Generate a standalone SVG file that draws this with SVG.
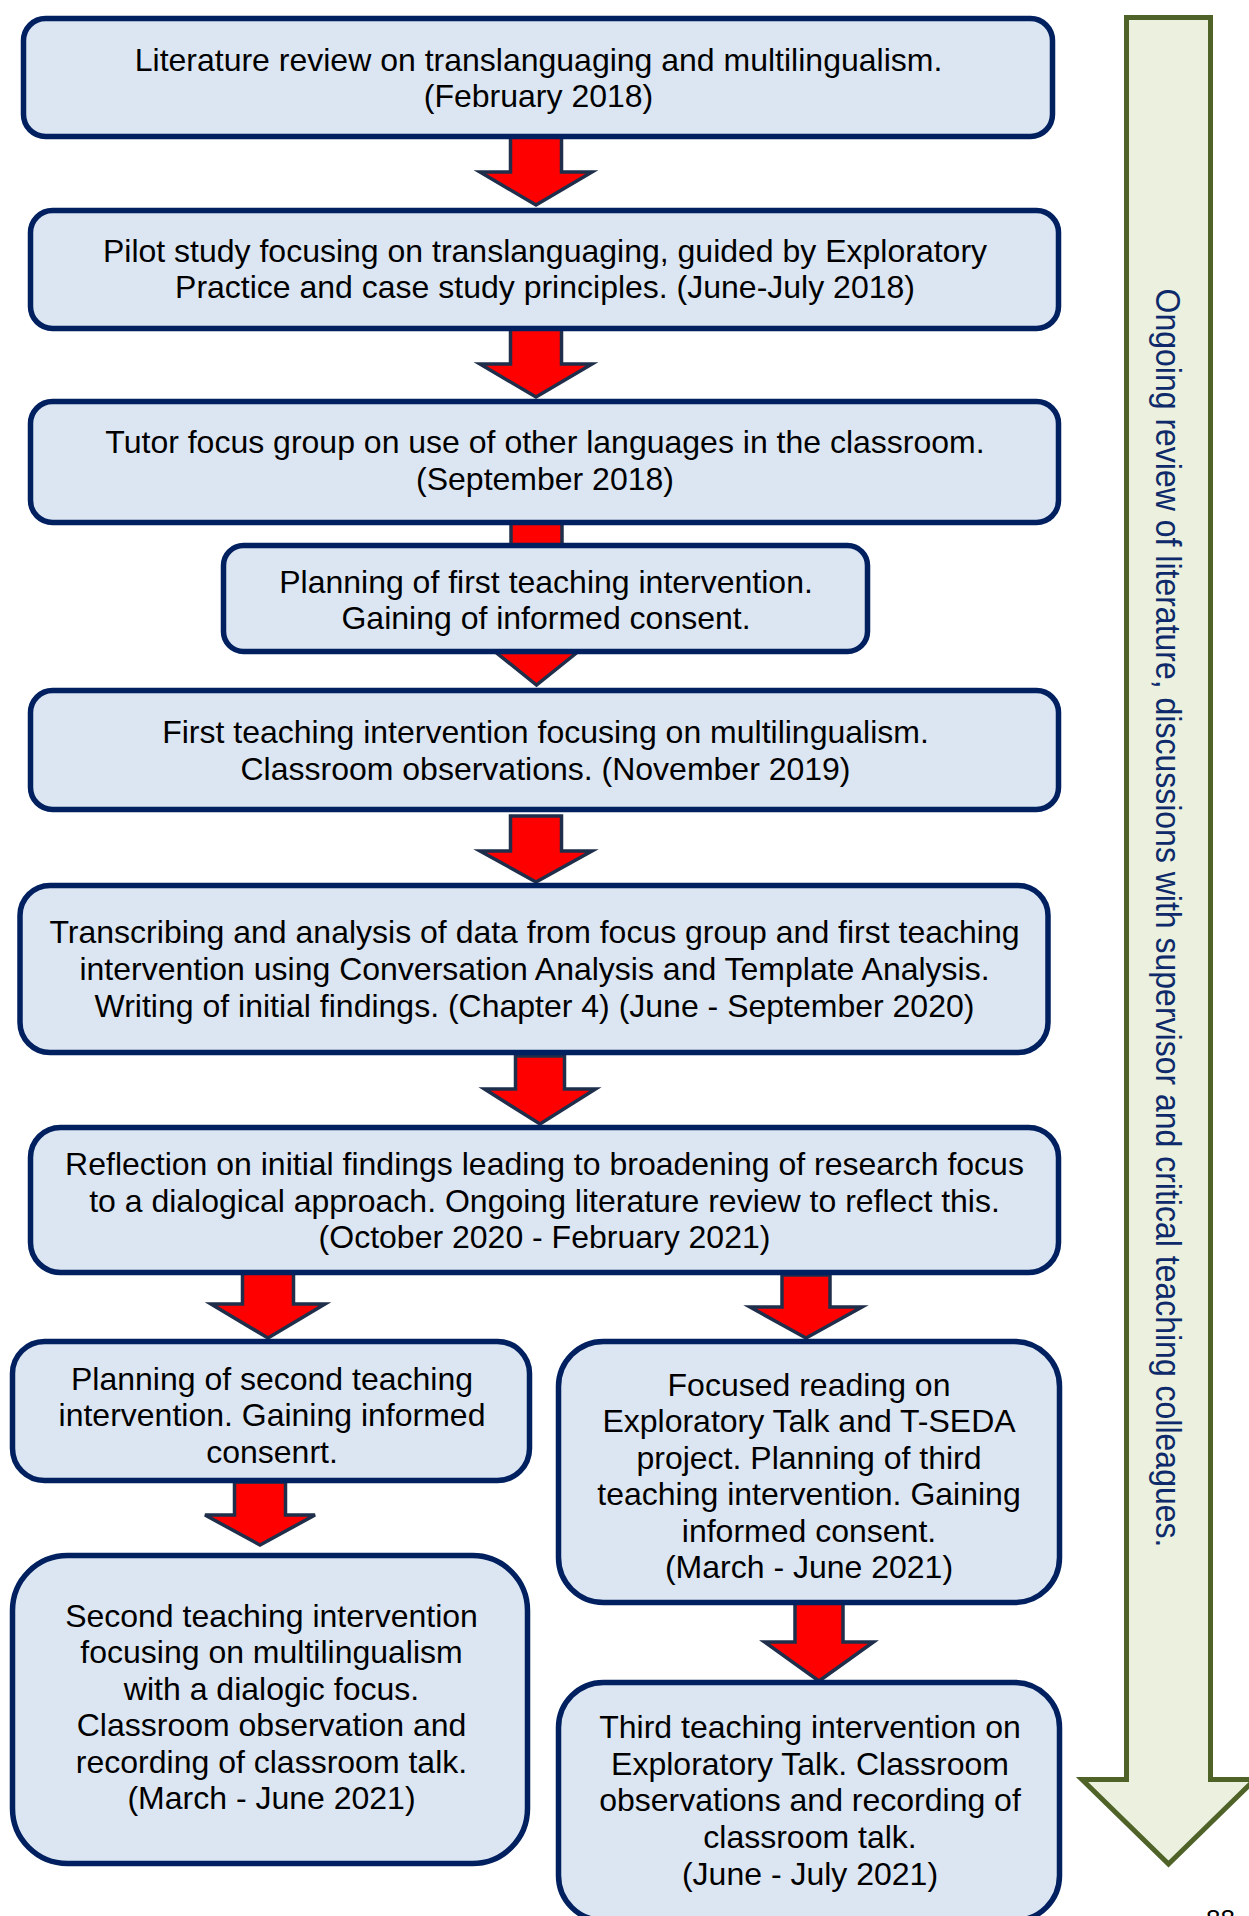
<svg xmlns="http://www.w3.org/2000/svg" width="1249" height="1916" viewBox="0 0 1249 1916">
<style>
.box{fill:#DCE6F2;stroke:#002060;stroke-width:5.5}
.arr{fill:#FF0000;stroke:#1F2F4B;stroke-width:3.5;stroke-linejoin:miter}
.t{font-family:"Liberation Sans",Arial,sans-serif;font-size:32px;fill:#000;text-anchor:middle}
.side{fill:#EBF1DE;stroke:#4F6228;stroke-width:5}
.st{font-family:"Liberation Sans",Arial,sans-serif;font-size:32px;fill:#0E2A6A;text-anchor:middle}
</style>
<rect width="1249" height="1916" fill="#FFFFFF"/>
<g id="ongoing-review">
<polygon class="side" points="1126.5,17.5 1210.5,17.5 1210.5,1779.5 1255,1779.5 1168.5,1864 1082,1779.5 1126.5,1779.5"/>
<text class="st" transform="translate(1156,918) rotate(90) scale(1,1.1)" x="0" y="0">Ongoing review of literature, discussions with supervisor and critical teaching colleagues.</text>
</g>
<g id="connectors">
<polygon class="arr" points="510.5,136 561.5,136 561.5,172 592,172 536,205 480,172 510.5,172"/>
<polygon class="arr" points="510.5,328 561.5,328 561.5,364 592,364 536,397 480,364 510.5,364"/>
<polygon class="arr" points="511,522 562,522 562,640 592.5,640 536.5,685 480.5,640 511,640"/>
<polygon class="arr" points="510.5,816 561.5,816 561.5,851 592,851 536,882 480,851 510.5,851"/>
<polygon class="arr" points="515.5,1056 564.5,1056 564.5,1089 595.5,1089 540,1124 484.5,1089 515.5,1089"/>
<polygon class="arr" points="242.5,1270 293.5,1270 293.5,1304 325,1304 268,1338 211,1304 242.5,1304"/>
<polygon class="arr" points="782,1275 830,1275 830,1307 862,1307 806,1338 750,1307 782,1307"/>
<polygon class="arr" points="234.5,1482 285.5,1482 285.5,1515 315,1515 260,1545 205,1515 234.5,1515"/>
<polygon class="arr" points="795,1603 843,1603 843,1642 873.5,1642 819,1681 764.5,1642 795,1642"/>
</g>
<g id="n1">
<rect class="box" x="23.5" y="18.5" width="1029" height="118" rx="22"/>
<text class="t" x="538.5" y="71">Literature review on translanguaging and multilingualism.</text>
<text class="t" x="538.5" y="107">(February 2018)</text>
</g>
<g id="n2">
<rect class="box" x="30.5" y="210.5" width="1028" height="118" rx="22"/>
<text class="t" x="545" y="262">Pilot study focusing on translanguaging, guided by Exploratory</text>
<text class="t" x="545" y="298">Practice and case study principles. (June-July 2018)</text>
</g>
<g id="n3">
<rect class="box" x="30.5" y="401.5" width="1028" height="121" rx="22"/>
<text class="t" x="545" y="453">Tutor focus group on use of other languages in the classroom.</text>
<text class="t" x="545" y="490">(September 2018)</text>
</g>
<g id="n4">
<rect class="box" x="223.5" y="545.5" width="644" height="106" rx="20"/>
<text class="t" x="546" y="593">Planning of first teaching intervention.</text>
<text class="t" x="546" y="629">Gaining of informed consent.</text>
</g>
<g id="n5">
<rect class="box" x="30.5" y="690.5" width="1028" height="119" rx="22"/>
<text class="t" x="545.5" y="743">First teaching intervention focusing on multilingualism.</text>
<text class="t" x="545.5" y="780">Classroom observations. (November 2019)</text>
</g>
<g id="n6">
<rect class="box" x="20" y="885.5" width="1028" height="167" rx="30"/>
<text class="t" x="534.5" y="943">Transcribing and analysis of data from focus group and first teaching</text>
<text class="t" x="534.5" y="980">intervention using Conversation Analysis and Template Analysis.</text>
<text class="t" x="534.5" y="1017">Writing of initial findings. (Chapter 4) (June - September 2020)</text>
</g>
<g id="n7">
<rect class="box" x="30.5" y="1127.5" width="1028" height="145" rx="30"/>
<text class="t" x="544.5" y="1175">Reflection on initial findings leading to broadening of research focus</text>
<text class="t" x="544.5" y="1212">to a dialogical approach. Ongoing literature review to reflect this.</text>
<text class="t" x="544.5" y="1248">(October 2020 - February 2021)</text>
</g>
<g id="n8">
<rect class="box" x="12.5" y="1341.5" width="517" height="139" rx="32"/>
<text class="t" x="272" y="1390">Planning of second teaching</text>
<text class="t" x="272" y="1426">intervention. Gaining informed</text>
<text class="t" x="272" y="1463">consenrt.</text>
</g>
<g id="n9">
<rect class="box" x="558.5" y="1341.5" width="501" height="261" rx="45"/>
<text class="t" x="809" y="1396">Focused reading on</text>
<text class="t" x="809" y="1432">Exploratory Talk and T-SEDA</text>
<text class="t" x="809" y="1469">project. Planning of third</text>
<text class="t" x="809" y="1505">teaching intervention. Gaining</text>
<text class="t" x="809" y="1542">informed consent.</text>
<text class="t" x="809" y="1578">(March - June 2021)</text>
</g>
<g id="n10">
<rect class="box" x="558.5" y="1682.5" width="501" height="238" rx="45"/>
<text class="t" x="810" y="1738">Third teaching intervention on</text>
<text class="t" x="810" y="1775">Exploratory Talk. Classroom</text>
<text class="t" x="810" y="1811">observations and recording of</text>
<text class="t" x="810" y="1848">classroom talk.</text>
<text class="t" x="810" y="1885">(June - July 2021)</text>
</g>
<g id="n11">
<rect class="box" x="12.5" y="1555.5" width="515" height="308" rx="55"/>
<text class="t" x="271.5" y="1627">Second teaching intervention</text>
<text class="t" x="271.5" y="1663">focusing on multilingualism</text>
<text class="t" x="271.5" y="1700">with a dialogic focus.</text>
<text class="t" x="271.5" y="1736">Classroom observation and</text>
<text class="t" x="271.5" y="1773">recording of classroom talk.</text>
<text class="t" x="271.5" y="1809">(March - June 2021)</text>
</g>
<text x="1206" y="1928" font-family="Liberation Sans, Arial, sans-serif" font-size="26" fill="#000">88</text>
</svg>
